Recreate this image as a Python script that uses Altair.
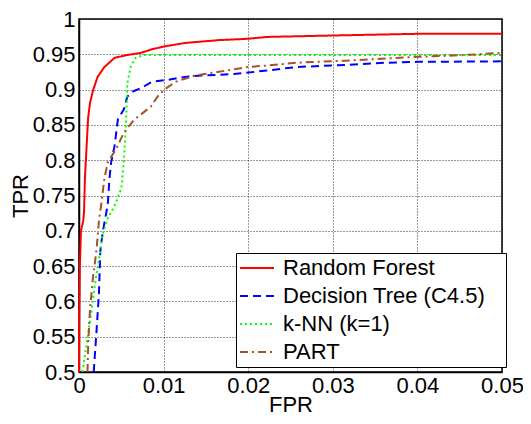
import altair as alt
import pandas as pd

series_names = ["Random Forest", "Decision Tree (C4.5)", "k-NN (k=1)", "PART"]
series_colors = ["#ff0000", "#0000ff", "#00ff00", "#a5522a"]

rf_fpr = [0, 0.00003, 0.0001, 0.00023, 0.0005, 0.0006, 0.0007, 0.0009, 0.00108, 0.0013,
          0.00166, 0.0022, 0.003, 0.0042, 0.0057, 0.0073, 0.0086, 0.01, 0.0125, 0.0164,
          0.02, 0.0222, 0.0315, 0.04, 0.05]
rf_tpr = [0.5, 0.573, 0.649, 0.7, 0.714, 0.728, 0.774, 0.82, 0.86, 0.881,
          0.899, 0.918, 0.932, 0.945, 0.949, 0.952, 0.957, 0.961, 0.966, 0.970,
          0.972, 0.9746, 0.977, 0.979, 0.979]

dt_fpr = [0.00174, 0.00206, 0.00236, 0.00252, 0.00283, 0.0034, 0.0036, 0.0038, 0.0042, 0.0046,
          0.0053, 0.0057, 0.0063, 0.0073, 0.0086, 0.0106, 0.0125, 0.0145, 0.0183, 0.0222,
          0.0257, 0.0315, 0.0362, 0.04, 0.05]
dt_tpr = [0.5, 0.556, 0.612, 0.672, 0.7, 0.737, 0.774, 0.797, 0.82, 0.858,
          0.872, 0.890, 0.897, 0.902, 0.911, 0.914, 0.918, 0.920, 0.922, 0.927,
          0.932, 0.935, 0.938, 0.9393, 0.94]

knn_fpr = [0.0004, 0.0007, 0.0011, 0.0015, 0.0019, 0.0024, 0.0028, 0.0034, 0.0042, 0.005,
           0.0053, 0.0055, 0.0056, 0.0057, 0.0061, 0.0067, 0.0077, 0.05]
knn_tpr = [0.5, 0.524, 0.556, 0.589, 0.626, 0.663, 0.695, 0.718, 0.735, 0.76,
           0.797, 0.84, 0.87, 0.908, 0.932, 0.945, 0.949, 0.949]

part_fpr = [0.001, 0.0011, 0.0013, 0.00166, 0.00206, 0.00236, 0.0026, 0.003, 0.0034, 0.0044,
            0.0053, 0.0065, 0.0085, 0.0094, 0.0102, 0.0114, 0.0137, 0.0164, 0.0199, 0.0222,
            0.0257, 0.0315, 0.0393, 0.045, 0.05]
part_tpr = [0.5, 0.543, 0.589, 0.635, 0.672, 0.714, 0.735, 0.774, 0.797, 0.816,
            0.839, 0.857, 0.876, 0.892, 0.901, 0.911, 0.920, 0.925, 0.932, 0.934,
            0.938, 0.941, 0.946, 0.9486, 0.952]

x_ticks = [0, 0.01, 0.02, 0.03, 0.04, 0.05]
y_ticks = [0.5, 0.55, 0.6, 0.65, 0.7, 0.75, 0.8, 0.85, 0.9, 0.95, 1.0]

rows = []
for name, xs, ys in zip(series_names,
                        [rf_fpr, dt_fpr, knn_fpr, part_fpr],
                        [rf_tpr, dt_tpr, knn_tpr, part_tpr]):
    for i, (xv, yv) in enumerate(zip(xs, ys)):
        rows.append({"series": name, "fpr": xv, "tpr": yv, "idx": i})
df = pd.DataFrame(rows)

FONT = "Liberation Sans"

legend = alt.Legend(
    title=" ", titleOrient="right", titleFontSize=1, titlePadding=17,
    orient="none", legendX=157, legendY=234,
    fillColor="white", strokeColor="black", padding=4,
    symbolType="M-2,0H2", symbolSize=289, symbolStrokeWidth=2, symbolOffset=6,
    labelFont=FONT, labelFontSize=22, labelColor="black", labelOffset=15,
    rowPadding=6, labelLimit=400,
)

color_scale = alt.Scale(domain=series_names, range=series_colors)
dash_scale = alt.Scale(domain=series_names, range=[[1, 0], [8, 5], [2, 3], [8, 4, 2, 4]])

chart = alt.Chart(df).mark_line(strokeWidth=2).encode(
    x=alt.X("fpr:Q", scale=alt.Scale(domain=[0, 0.05], nice=False),
            axis=alt.Axis(title="FPR", values=x_ticks, format=".2~f", ticks=False,
                          labelPadding=3, labelFlush=False, titlePadding=-2)),
    y=alt.Y("tpr:Q", scale=alt.Scale(domain=[0.5, 1], nice=False, zero=False),
            axis=alt.Axis(title="TPR", values=y_ticks, format=".2~f", ticks=False,
                          labelPadding=4, labelFlush=False, titlePadding=0)),
    color=alt.Color("series:N", scale=color_scale, legend=legend),
    strokeDash=alt.StrokeDash("series:N", scale=dash_scale, legend=legend),
    order="idx:Q",
).properties(
    width=423, height=353,
    autosize=alt.AutoSizeParams(type="none"),
    padding={"left": 71, "top": 11, "right": 21, "bottom": 44},
).configure_view(
    stroke="black", strokeWidth=1.5
).configure_axis(
    labelFont=FONT, labelFontSize=22, labelColor="black",
    titleFont=FONT, titleFontSize=22, titleFontWeight="normal", titleColor="black",
    domainColor="black", domainWidth=1.5,
    gridColor="black", gridDash=[1, 2], gridOpacity=0.8, gridWidth=1,
)

chart.save("out.html", embed_options={"renderer": "svg", "actions": False})
